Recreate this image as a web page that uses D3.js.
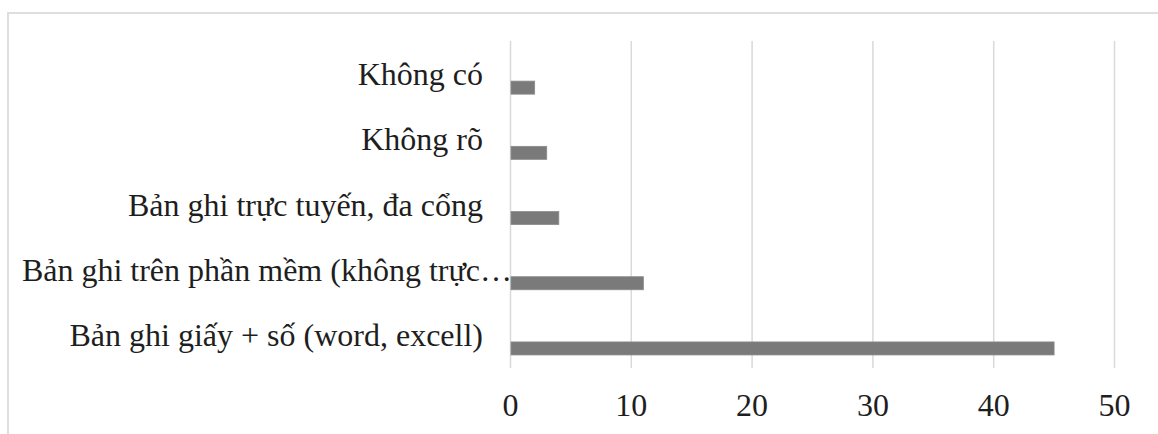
<!DOCTYPE html>
<html>
<head>
    <meta charset="utf-8">
    <title>Bar chart</title>
    <script src="https://d3js.org/d3.v7.min.js"></script>
    <style>
        body { margin: 0; background: #fff; }
        text { font-family: "Liberation Serif", "Times New Roman", serif; fill: #1e1e1e; }
    </style>
</head>
<body>
    <script>
        const categories = [
            "Không có",
            "Không rõ",
            "Bản ghi trực tuyến, đa cổng",
            "Bản ghi trên phần mềm (không trực tuyến)",
            "Bản ghi giấy + số (word, excell)"
        ];
        const values = [2, 3, 4, 11, 45];
        const xTicks = [0, 10, 20, 30, 40, 50];
        // Excel-style cluster: the drawn series sits in the last slot
        const slots = ["a", "b", "c"];

        const width = 1158, height = 434;
        const svg = d3.select('body').append('svg')
            .attr('width', width)
            .attr('height', height);

        // chart area border (left + top visible)
        svg.append('path')
            .attr('d', `M8,${height} V13 H${width}`)
            .attr('fill', 'none')
            .attr('stroke', '#dedede')
            .attr('stroke-width', 2);

        const x = d3.scaleLinear().domain([0, 50]).range([510.5, 1114.5]);
        const y = d3.scaleBand().domain(categories).range([42, 368]);
        const inner = d3.scaleBand().domain(slots)
            .range([y.bandwidth() * 0.2, y.bandwidth() * 0.8]);

        // gridlines
        svg.append('g')
            .selectAll('line')
            .data(xTicks)
            .enter().append('line')
            .attr('x1', d => x(d)).attr('x2', d => x(d))
            .attr('y1', 41).attr('y2', 368)
            .attr('stroke', '#d9d9d9')
            .attr('stroke-width', 1.5);

        // bars
        svg.append('g')
            .selectAll('rect')
            .data(categories)
            .enter().append('rect')
            .attr('x', x(0) + 0.5)
            .attr('y', (d) => y(d) + inner('c'))
            .attr('width', (d, i) => x(values[i]) - x(0) - 0.5)
            .attr('height', inner.bandwidth())
            .attr('fill', '#7a7a7a')
            .attr('stroke', '#8c8c8c')
            .attr('stroke-width', 0.8);

        // x tick labels
        svg.append('g')
            .selectAll('text')
            .data(xTicks)
            .enter().append('text')
            .attr('x', d => x(d))
            .attr('y', 416)
            .attr('text-anchor', 'middle')
            .attr('font-size', '32px')
            .text(d => d);

        // category labels, cut at a word with an ellipsis like Excel
        const maxLabel = 505;
        svg.append('g')
            .selectAll('text')
            .data(categories)
            .enter().append('text')
            .attr('x', 483)
            .attr('y', d => y(d) + y.bandwidth() / 2)
            .attr('dy', '0.33em')
            .attr('text-anchor', 'end')
            .attr('font-size', '32px')
            .each(function(d) {
                const t = d3.select(this);
                t.text(d);
                if (this.getComputedTextLength() > maxLabel) {
                    let words = d.split(' ');
                    while (words.length > 1 && this.getComputedTextLength() > maxLabel) {
                        words.pop();
                        t.text(words.join(' ') + '…');
                    }
                    t.attr('x', 512);
                }
            });
    </script>
</body>
</html>
